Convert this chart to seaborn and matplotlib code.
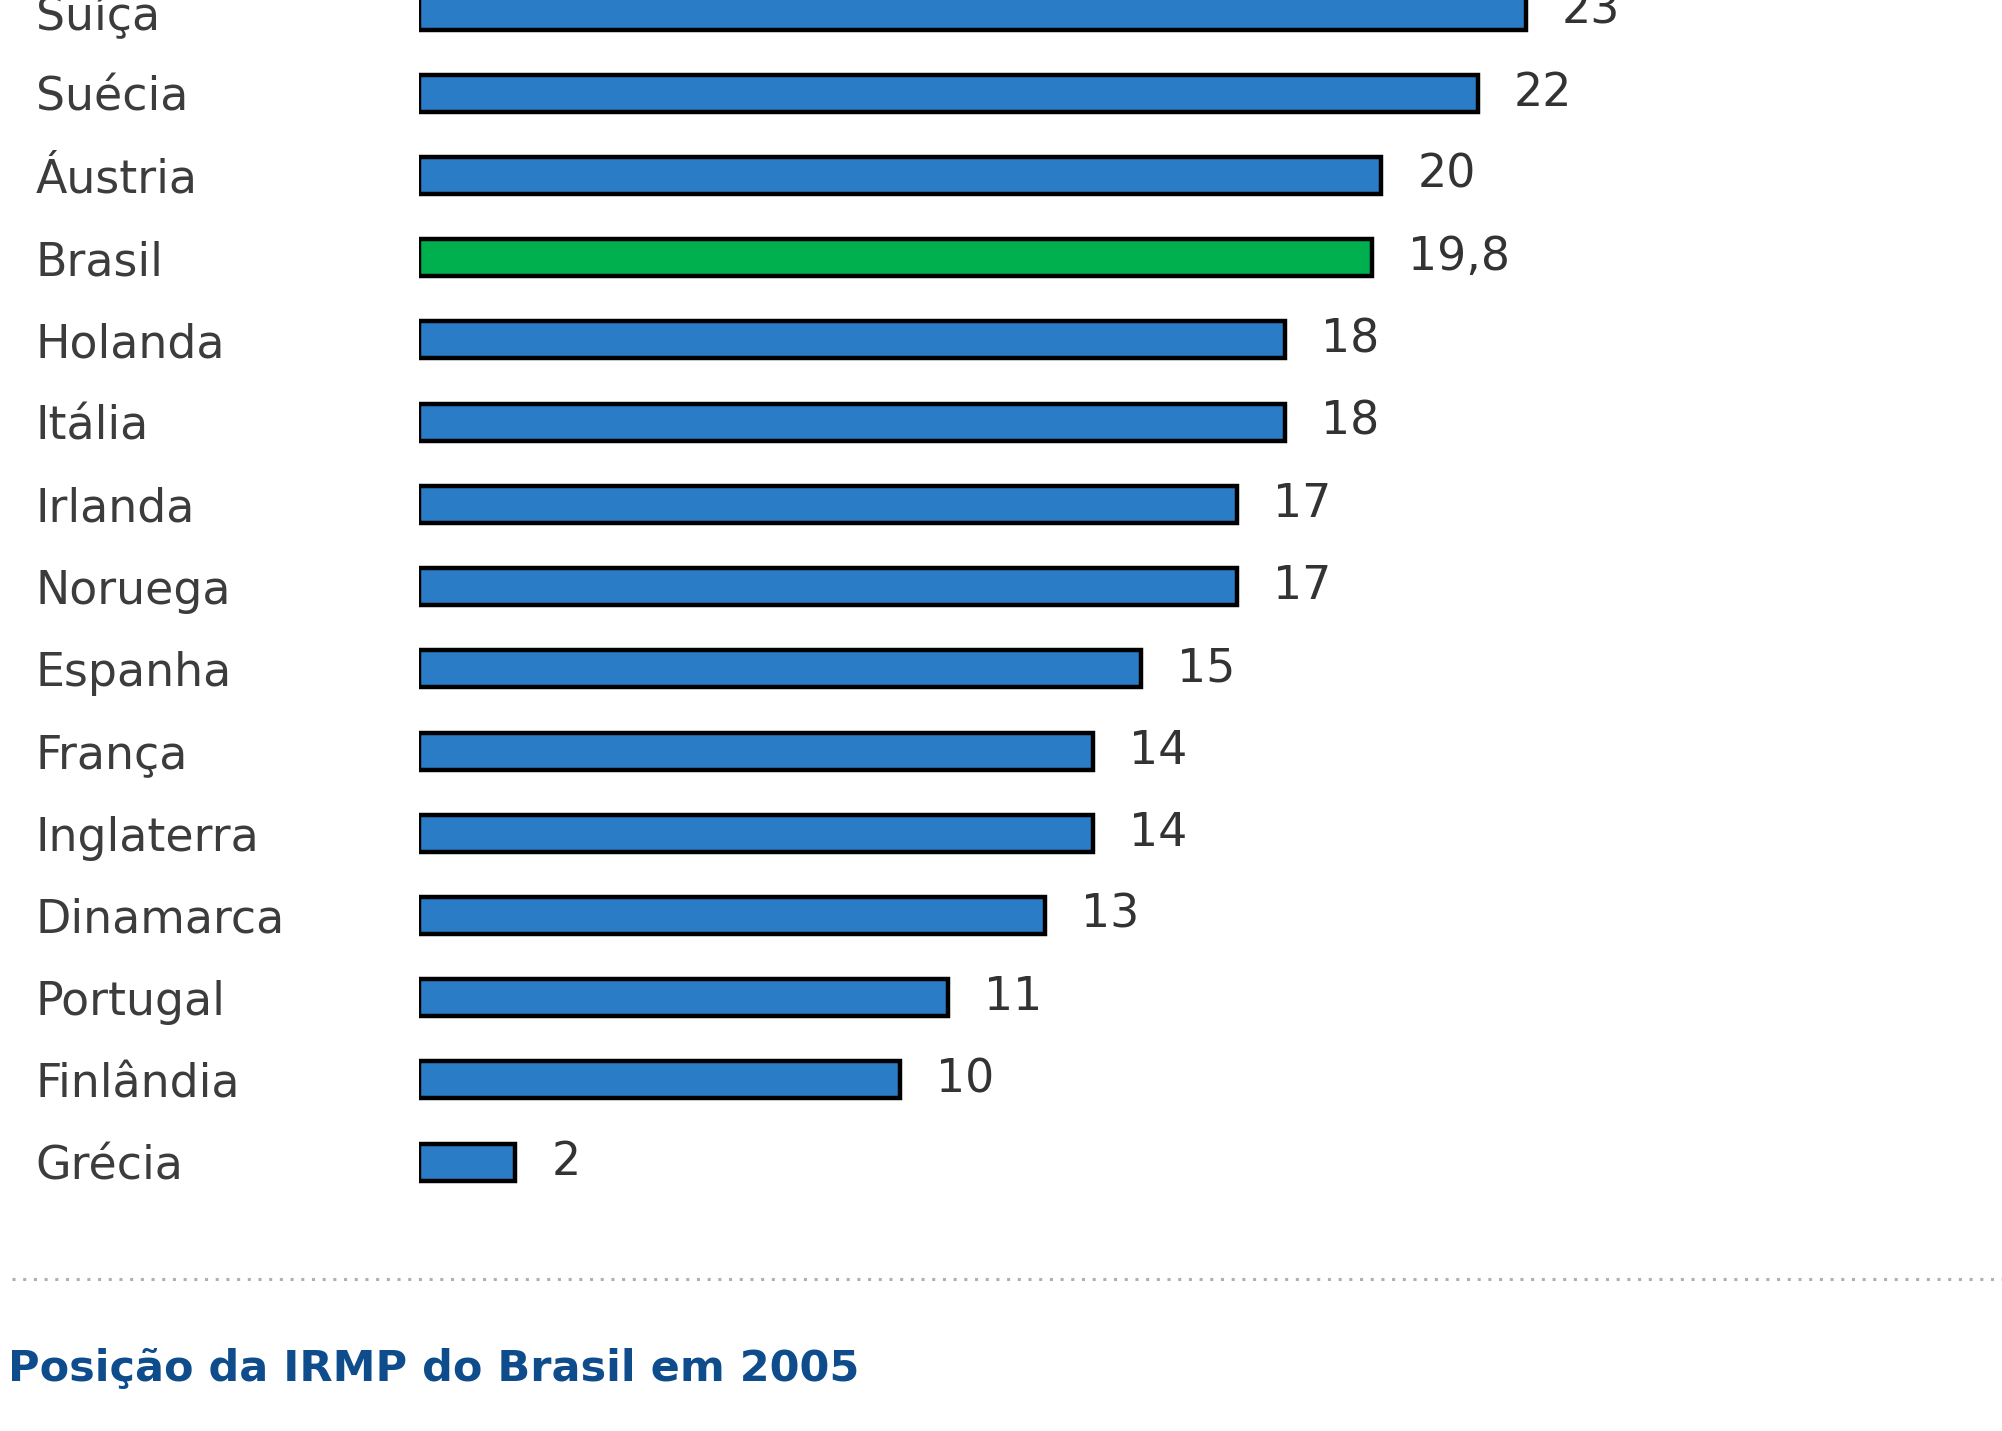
import matplotlib
matplotlib.use("Agg")
import matplotlib.pyplot as plt
import seaborn as sns
from matplotlib.lines import Line2D

# Dados
paises = ["Suíça", "Suécia", "Áustria", "Brasil", "Holanda", "Itália", "Irlanda",
          "Noruega", "Espanha", "França", "Inglaterra", "Dinamarca", "Portugal",
          "Finlândia", "Grécia"]
valores = [23, 22, 20, 19.8, 18, 18, 17, 17, 15, 14, 14, 13, 11, 10, 2]
rotulos = ["23", "22", "20", "19,8", "18", "18", "17", "17", "15", "14", "14",
           "13", "11", "10", "2"]

azul = "#2a7cc6"
verde = "#00b04f"
cores = [verde if p == "Brasil" else azul for p in paises]

sns.set_style("white")
plt.rcParams["font.family"] = ["DejaVu Sans"]

fig = plt.figure(figsize=(20.02, 14.31), dpi=100)
ax = fig.add_axes([419 / 2002, 0, 1 - 419 / 2002, 1])

sns.barplot(x=valores, y=paises, hue=paises, palette=cores, legend=False,
            orient="h", width=0.45, edgecolor="black", linewidth=3.2,
            saturation=1, ax=ax)

ax.set_xlim(0, 32.9)
ax.set_ylim(17.27, -0.134)

# Rotulos de valor
i = 0
for cont in ax.containers:
    n = len(cont)
    ax.bar_label(cont, labels=rotulos[i:i + n], padding=26, fontsize=33,
                 color="#333333")
    i += n

ax.set_xticks([])
ax.set_xlabel("")
ax.set_ylabel("")
ax.tick_params(axis="y", length=0, pad=276, labelsize=33, labelcolor="#3c3c3c")
for lab in ax.get_yticklabels():
    lab.set_ha("left")
sns.despine(ax=ax, left=True, bottom=True)

# Linha pontilhada e titulo inferior
fig.add_artist(Line2D([12 / 2002, 1], [1 - 1279 / 1431, 1 - 1279 / 1431],
                      color="#b0b0b0", linewidth=2.2, linestyle=(0, (1, 2.5))))
fig.text(8 / 2002, 1 - 1369 / 1431, "Posição da IRMP do Brasil em 2005",
         fontsize=31, fontweight="bold", color="#0f4c8c", va="center", ha="left")

fig.savefig("out.png", dpi=100)
